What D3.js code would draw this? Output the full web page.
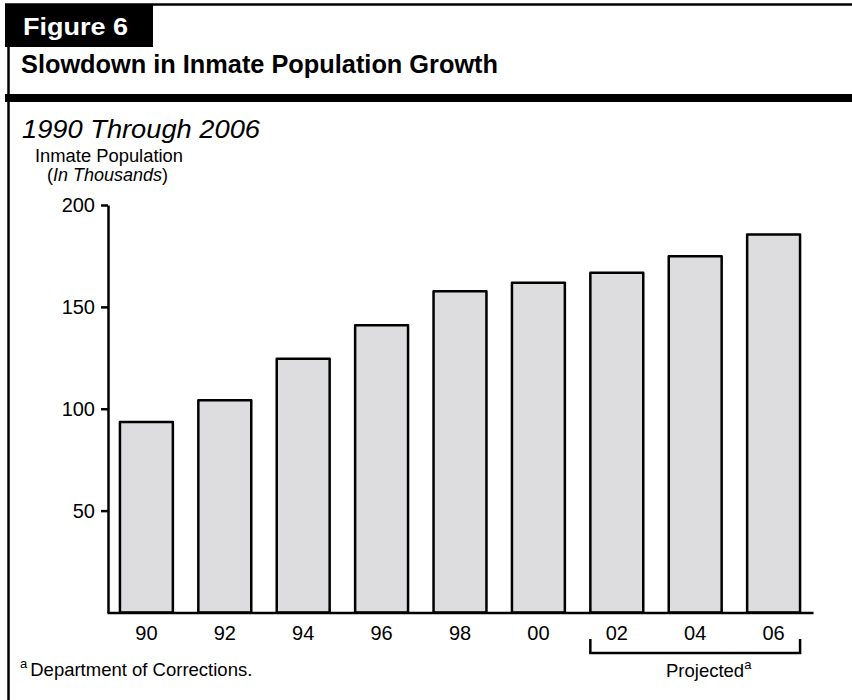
<!DOCTYPE html>
<html>
<head>
<meta charset="utf-8">
<script src="https://cdn.jsdelivr.net/npm/d3@7"></script>
<style>
  html, body { margin: 0; padding: 0; background: #fff; }
  svg { display: block; font-family: "Liberation Sans", Arial, Helvetica, sans-serif; }
</style>
</head>
<body>
<svg id="chart" width="852" height="700"></svg>
<script>
// Inmate population, in thousands (1990 through 2006; 2002 onward projected)
const years = ["90", "92", "94", "96", "98", "00", "02", "04", "06"];
const population = [93.5, 104.2, 124.6, 141, 157.7, 161.9, 166.8, 174.9, 185.5];
const projectedYears = ["02", "04", "06"];
const yTicks = [50, 100, 150, 200];

const svg = d3.select("#chart");

// Frame: top rule, left rule, heavy rule under the title
svg.append("line").attr("x1", 5).attr("x2", 852).attr("y1", 4.5).attr("y2", 4.5)
  .attr("stroke", "#000").attr("stroke-width", 2.5);
svg.append("line").attr("x1", 8.5).attr("x2", 8.5).attr("y1", 4).attr("y2", 700)
  .attr("stroke", "#000").attr("stroke-width", 2.5);
svg.append("rect").attr("x", 5).attr("y", 94).attr("width", 847).attr("height", 8)
  .attr("fill", "#000");

// "Figure 6" tab
svg.append("rect").attr("x", 5).attr("y", 4).attr("width", 148).attr("height", 43)
  .attr("fill", "#000");
svg.append("text").attr("x", 23).attr("y", 34.5)
  .attr("fill", "#fff").attr("font-weight", "bold").attr("font-size", 24)
  .attr("textLength", 105).attr("lengthAdjust", "spacingAndGlyphs")
  .text("Figure 6");

// Title and subtitle
svg.append("text").attr("x", 21).attr("y", 73)
  .attr("font-weight", "bold").attr("font-size", 26.5)
  .attr("textLength", 477).attr("lengthAdjust", "spacingAndGlyphs")
  .text("Slowdown in Inmate Population Growth");
svg.append("text").attr("x", 22).attr("y", 138)
  .attr("font-style", "italic").attr("font-size", 25)
  .attr("textLength", 238).attr("lengthAdjust", "spacingAndGlyphs")
  .text("1990 Through 2006");

// Axis title
svg.append("text").attr("x", 35).attr("y", 162).attr("font-size", 18)
  .attr("textLength", 148).attr("lengthAdjust", "spacingAndGlyphs")
  .text("Inmate Population");
const unit = svg.append("text").attr("x", 47).attr("y", 181).attr("font-size", 18);
unit.append("tspan").text("(");
unit.append("tspan").attr("font-style", "italic").text("In Thousands");
unit.append("tspan").text(")");

// Scales
const x = d3.scaleBand().domain(years).range([107, 813])
  .paddingInner(0.325).paddingOuter(0.165);
const y = d3.scaleLinear().domain([0, 200]).range([612.5, 205]);

// Bars
svg.append("g").selectAll("rect").data(years).join("rect")
  .attr("x", d => x(d))
  .attr("y", (d, i) => y(population[i]))
  .attr("width", x.bandwidth())
  .attr("height", (d, i) => y(0) - y(population[i]))
  .attr("fill", "#dddde0")
  .attr("stroke", "#000")
  .attr("stroke-width", 2.5)
  .attr("stroke-linejoin", "round");

// Y axis
const yAxis = svg.append("g").attr("transform", "translate(108,0)")
  .call(d3.axisLeft(y).tickValues(yTicks).tickSize(7).tickSizeOuter(0).tickPadding(6));
yAxis.select(".domain").attr("stroke-width", 2.5);
yAxis.selectAll(".tick line").attr("stroke-width", 2.5);
yAxis.selectAll("text").attr("font-size", 20).attr("font-family", null).attr("fill", "#000");

// X axis
const xAxis = svg.append("g").attr("transform", "translate(0,612.5)")
  .call(d3.axisBottom(x).tickSize(0).tickSizeOuter(0));
xAxis.select(".domain").attr("stroke-width", 2.5);
xAxis.selectAll("text").attr("font-size", 20).attr("font-family", null)
  .attr("fill", "#000").attr("dy", null).attr("y", 27.5);

// Bracket under the projected years
const bx0 = x(projectedYears[0]);
const bx1 = x(projectedYears[projectedYears.length - 1]) + x.bandwidth();
svg.append("path")
  .attr("d", `M${bx0},639 V653 H${bx1} V639`)
  .attr("fill", "none").attr("stroke", "#000").attr("stroke-width", 2.5);
const proj = svg.append("text").attr("x", 666).attr("y", 677).attr("font-size", 18.5);
proj.append("tspan").text("Projected");
proj.append("tspan").attr("font-size", 13).attr("dy", -8).text("a");

// Source note
const note = svg.append("text").attr("x", 20).attr("y", 676).attr("font-size", 18.5);
note.append("tspan").attr("font-size", 13).attr("dy", -8).text("a");
note.append("tspan").attr("dx", 3).attr("dy", 8).text("Department of Corrections.");
</script>
</body>
</html>
